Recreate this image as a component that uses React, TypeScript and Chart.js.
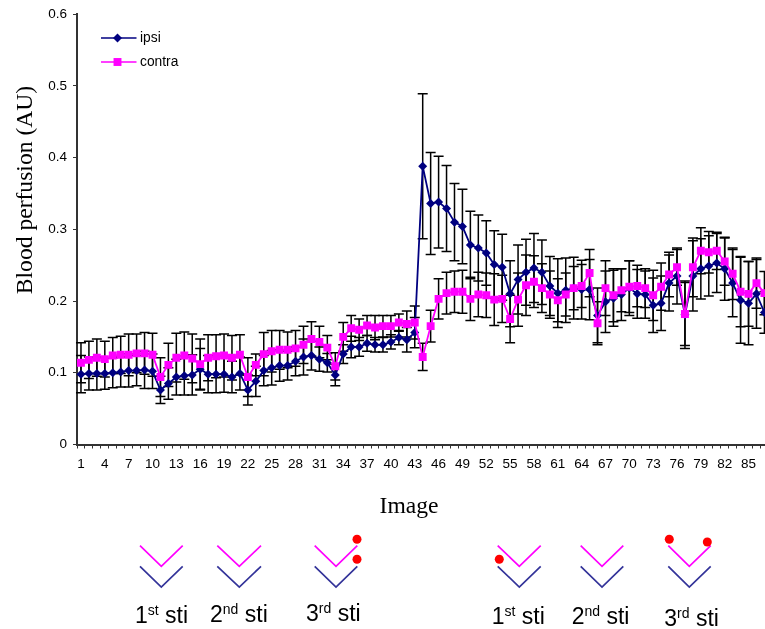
import React, { useEffect, useRef } from "react";
import { Chart, registerables } from "chart.js";

Chart.register(...registerables);

const images: string[] = [];
for (let i = 1; i <= 87; i++) images.push(String(i));

const ipsi = [
  0.098, 0.099, 0.099, 0.099, 0.1, 0.101, 0.103, 0.103, 0.104, 0.102, 0.076, 0.085, 0.094, 0.096, 0.097, 0.105, 0.098, 0.098, 0.098, 0.094, 0.099, 0.076, 0.088, 0.103, 0.107, 0.11, 0.11, 0.116,
  0.122, 0.124, 0.119, 0.114, 0.097, 0.126, 0.136, 0.136, 0.141, 0.139, 0.139, 0.143, 0.149, 0.146, 0.156,
  0.388, 0.336, 0.338, 0.329, 0.31, 0.304, 0.278, 0.274, 0.267, 0.251, 0.247, 0.21, 0.23, 0.24, 0.246,
  0.24, 0.221, 0.211, 0.215, 0.218, 0.216, 0.216, 0.18, 0.199, 0.204, 0.209, 0.218, 0.21, 0.209, 0.194, 0.197, 0.225, 0.235, 0.181, 0.235, 0.245, 0.249, 0.253, 0.245, 0.225, 0.201, 0.197, 0.21, 0.184,
];
const contra = [
  0.114, 0.118, 0.121, 0.119, 0.124, 0.125, 0.125, 0.127, 0.127, 0.125, 0.094, 0.111, 0.121, 0.124, 0.12, 0.112, 0.121, 0.123, 0.124, 0.121, 0.125, 0.094, 0.111, 0.126, 0.13, 0.132, 0.132, 0.134,
  0.139, 0.147, 0.143, 0.135, 0.109, 0.15, 0.162, 0.16, 0.166, 0.163, 0.165, 0.165, 0.17, 0.168, 0.17,
  0.122, 0.165, 0.203, 0.211, 0.213, 0.213, 0.203, 0.209, 0.208, 0.202, 0.203, 0.175, 0.202, 0.222, 0.227,
  0.218, 0.209, 0.201, 0.209, 0.218, 0.221, 0.239, 0.169, 0.218, 0.208, 0.215, 0.22, 0.221, 0.218, 0.208, 0.22, 0.237, 0.247, 0.182, 0.247, 0.27, 0.268, 0.27, 0.255, 0.238, 0.213, 0.21, 0.225, 0.211,
];
const ipsiErr = [
  0.026, 0.023, 0.023, 0.022, 0.021, 0.021, 0.023, 0.021, 0.026, 0.024, 0.019, 0.022, 0.025, 0.027, 0.028, 0.029, 0.026, 0.026, 0.025, 0.022, 0.023, 0.021, 0.021, 0.021, 0.024, 0.022, 0.02, 0.02,
  0.025, 0.02, 0.017, 0.013, 0.015, 0.013, 0.015, 0.013, 0.011, 0.01, 0.01, 0.01, 0.01, 0.017, 0.021,
  0.101, 0.071, 0.064, 0.06, 0.054, 0.052, 0.047, 0.046, 0.045, 0.047, 0.046, 0.046, 0.048, 0.046, 0.048,
  0.045, 0.041, 0.048, 0.045, 0.043, 0.041, 0.042, 0.038, 0.043, 0.039, 0.036, 0.038, 0.034, 0.033, 0.038, 0.038, 0.039, 0.039, 0.047, 0.049, 0.042, 0.042, 0.041, 0.044, 0.047, 0.06, 0.058, 0.048, 0.029,
];
const contraErr = [
  0.028, 0.026, 0.026, 0.025, 0.025, 0.026, 0.029, 0.027, 0.029, 0.03, 0.027, 0.03, 0.034, 0.033, 0.034, 0.035, 0.032, 0.03, 0.03, 0.031, 0.028, 0.027, 0.015, 0.03, 0.029, 0.027, 0.025, 0.025,
  0.026, 0.024, 0.022, 0.017, 0.019, 0.02, 0.018, 0.015, 0.014, 0.017, 0.015, 0.015, 0.012, 0.018, 0.023,
  0.019, 0.022, 0.028, 0.029, 0.029, 0.03, 0.03, 0.031, 0.031, 0.036, 0.033, 0.033, 0.037, 0.042, 0.036,
  0.034, 0.033, 0.03, 0.03, 0.03, 0.03, 0.033, 0.03, 0.038, 0.037, 0.03, 0.036, 0.029, 0.027, 0.035, 0.033, 0.031, 0.025, 0.044, 0.041, 0.032, 0.029, 0.026, 0.033, 0.036, 0.049, 0.045, 0.035, 0.03,
];

const NAVY = "#000080";
const MAGENTA = "#ff00ff";
const SANS = '"Liberation Sans", Arial, sans-serif';
const SERIF = '"Liberation Serif", "Times New Roman", serif';

const errorBars = {
  id: "errorBars",
  beforeDatasetsDraw(chart: any) {
    const { ctx, scales } = chart;
    const x = scales.x;
    const y = scales.y;
    const sets = [
      { v: ipsi, e: ipsiErr },
      { v: contra, e: contraErr },
    ];
    ctx.save();
    ctx.strokeStyle = "#000";
    ctx.lineWidth = 1.5;
    sets.forEach(({ v, e }) => {
      v.forEach((val, i) => {
        const px = x.getPixelForValue(i);
        const hi = y.getPixelForValue(val + e[i]);
        const lo = y.getPixelForValue(val - e[i]);
        ctx.beginPath();
        ctx.moveTo(px, hi);
        ctx.lineTo(px, lo);
        ctx.moveTo(px - 5, hi);
        ctx.lineTo(px + 5, hi);
        ctx.moveTo(px - 5, lo);
        ctx.lineTo(px + 5, lo);
        ctx.stroke();
      });
    });
    ctx.restore();
  },
};

const annotations = {
  id: "annotations",
  afterDraw(chart: any) {
    const { ctx } = chart;
    ctx.save();
    // legend
    const rows = [
      { label: "ipsi", y: 38, color: NAVY, style: "rectRot", r: 4.5 },
      { label: "contra", y: 62, color: MAGENTA, style: "rect", r: 5.6 },
    ];
    rows.forEach((row) => {
      ctx.strokeStyle = row.color;
      ctx.lineWidth = 1.5;
      ctx.beginPath();
      ctx.moveTo(101, row.y);
      ctx.lineTo(136.5, row.y);
      ctx.stroke();
      ctx.fillStyle = row.color;
      const s = row.r;
      ctx.beginPath();
      if (row.style === "rect") {
        ctx.rect(117.5 - s * 0.707, row.y - s * 0.707, s * 1.414, s * 1.414);
      } else {
        ctx.moveTo(117.5, row.y - s);
        ctx.lineTo(117.5 + s, row.y);
        ctx.lineTo(117.5, row.y + s);
        ctx.lineTo(117.5 - s, row.y);
        ctx.closePath();
      }
      ctx.fill();
      ctx.fillStyle = "#000";
      ctx.font = `13.8px ${SANS}`;
      ctx.textAlign = "left";
      ctx.textBaseline = "middle";
      ctx.fillText(row.label, 140, row.y);
    });
    // axis titles
    ctx.fillStyle = "#000";
    ctx.textAlign = "center";
    ctx.textBaseline = "middle";
    ctx.font = `23.6px ${SERIF}`;
    ctx.fillText("Image", 409, 507);
    ctx.translate(26, 190);
    ctx.rotate(-Math.PI / 2);
    ctx.fillText("Blood perfusion (AU)", 0, 0);
    ctx.restore();
  },
};

type Chev = { a: number; b: number; c: number };
const chevrons: Chev[] = [
  { a: 140, b: 161.3, c: 182.7 },
  { a: 217.3, b: 239.3, c: 261 },
  { a: 314.7, b: 336, c: 357.3 },
  { a: 497.7, b: 519.3, c: 540.7 },
  { a: 580.7, b: 602, c: 623.3 },
  { a: 668.3, b: 689.3, c: 710.7 },
];
const dots = [
  [357, 539.3],
  [357, 559.3],
  [499.3, 559.3],
  [669.3, 539.3],
  [707.3, 542],
];
const stiLabels = [
  { n: "1", s: "st", x: 135, y: 622.7 },
  { n: "2", s: "nd", x: 210, y: 621.7 },
  { n: "3", s: "rd", x: 306, y: 621 },
  { n: "1", s: "st", x: 491.7, y: 624.3 },
  { n: "2", s: "nd", x: 571.7, y: 624.3 },
  { n: "3", s: "rd", x: 664.3, y: 626 },
];

export default function App() {
  const ref = useRef<HTMLCanvasElement>(null);
  useEffect(() => {
    const chart = new Chart(ref.current as HTMLCanvasElement, {
      type: "line",
      data: {
        labels: images,
        datasets: [
          {
            label: "ipsi",
            data: ipsi,
            borderColor: NAVY,
            backgroundColor: NAVY,
            borderWidth: 1.8,
            pointStyle: "rectRot",
            pointRadius: 4.5,
            pointBorderWidth: 0,
            tension: 0,
            order: 2,
          },
          {
            label: "contra",
            data: contra,
            borderColor: MAGENTA,
            backgroundColor: MAGENTA,
            borderWidth: 1.8,
            pointStyle: "rect",
            pointRadius: 5.6,
            pointBorderWidth: 0,
            tension: 0,
            order: 1,
          },
        ],
      },
      options: {
        responsive: false,
        animation: false,
        layout: { padding: { top: 13, left: 0, right: 0, bottom: 0 } },
        plugins: { legend: { display: false }, tooltip: { enabled: false } },
        scales: {
          x: {
            type: "category",
            offset: true,
            grid: {
              offset: true,
              drawOnChartArea: false,
              color: "#333",
              tickLength: 4,
              lineWidth: 1,
            },
            border: { color: "#333", width: 2 },
            ticks: {
              autoSkip: false,
              maxRotation: 0,
              padding: 8,
              color: "#000",
              font: { family: SANS, size: 13.5 },
              callback: (_v: any, i: number) => (i % 3 === 0 ? images[i] : ""),
            },
            afterFit(s: any) {
              s.height = 184.5;
            },
          },
          y: {
            min: 0,
            max: 0.6,
            grid: {
              drawOnChartArea: false,
              color: "#333",
              tickLength: 4,
              lineWidth: 1,
            },
            border: { color: "#333", width: 2 },
            ticks: {
              stepSize: 0.1,
              padding: 6,
              color: "#000",
              font: { family: SANS, size: 13.5 },
              callback: (v: any) => (v === 0 ? "0" : Number(v).toFixed(1)),
            },
            afterFit(s: any) {
              s.width = 77;
            },
          },
        },
      },
      plugins: [errorBars, annotations],
    } as any);
    return () => chart.destroy();
  }, []);

  return (
    <div style={{ position: "absolute", left: 0, top: 0, width: 765, height: 629, overflow: "hidden", background: "#fff" }}>
      <canvas ref={ref} width={774} height={629} style={{ position: "absolute", left: 0, top: 0 }} />
      <svg width={765} height={629} style={{ position: "absolute", left: 0, top: 0 }}>
        {chevrons.map((c, i) => (
          <g key={i} fill="none" strokeWidth={1.7}>
            <polyline points={`${c.a},545.7 ${c.b},566.3 ${c.c},545.7`} stroke="#ff00ff" />
            <polyline points={`${c.a},566.3 ${c.b},587 ${c.c},566.3`} stroke="#333399" />
          </g>
        ))}
        {dots.map((d, i) => (
          <circle key={i} cx={d[0]} cy={d[1]} r={4.5} fill="#ff0000" />
        ))}
        {stiLabels.map((l, i) => (
          <text key={i} x={l.x} y={l.y} fontFamily={SANS} fontSize={23} fill="#000">
            {l.n}
            <tspan fontSize={14} dy={-8}>{l.s}</tspan>
            <tspan dy={8}> sti</tspan>
          </text>
        ))}
      </svg>
    </div>
  );
}
